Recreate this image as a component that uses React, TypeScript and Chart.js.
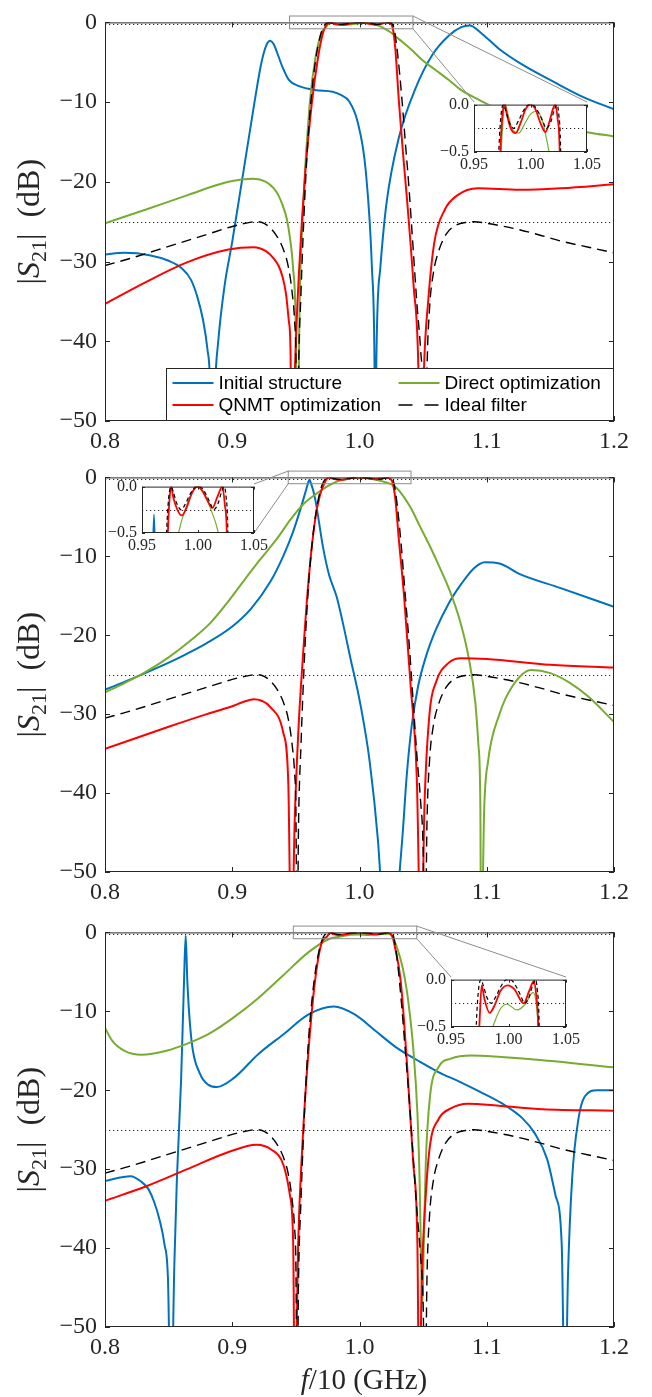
import React, { useEffect, useRef } from "react";
import { Chart, registerables } from "chart.js";

Chart.register(...registerables);

type Pt = [number, number];

// ---------------- axis ticks / labels ----------------
const xTickValues = [0.8, 0.9, 1.0, 1.1, 1.2];
const yTickValues = [-50, -40, -30, -20, -10, 0];
const insetXTickValues = [0.95, 1.0, 1.05];
const insetYTickValues = [-0.5, 0];
const mainRefLevels = [-25, -0.25];
const insetRefLevels = [-0.25];
const seriesNames = ["Initial structure", "Direct optimization", "QNMT optimization", "Ideal filter"];

// ---------------- data: [f/10 GHz, |S21| dB] ----------------
const idealFilter: Pt[] = [
  [0.8, -30.5], [0.82, -29.6], [0.85, -28.1], [0.88, -26.6], [0.9, -25.6], [0.915, -25.05], [0.92, -25.0],
  [0.925, -25.2], [0.93, -25.8], [0.935, -26.8], [0.94, -28.4], [0.944, -30.6], [0.947, -33.8], [0.949, -37.5],
  [0.95, -42], [0.951, -62], [0.952, -45], [0.954, -34], [0.957, -22], [0.96, -13.5], [0.963, -8], [0.966, -4.2],
  [0.969, -1.8], [0.971, -0.8], [0.9725, -0.35], [0.974, -0.1], [0.976, 0], [0.978, -0.06], [0.981, -0.18],
  [0.985, -0.25], [0.989, -0.18], [0.993, -0.08], [0.997, -0.01], [1.0, 0], [1.003, -0.01], [1.007, -0.08],
  [1.011, -0.18], [1.014, -0.25], [1.018, -0.18], [1.021, -0.06], [1.0235, 0], [1.025, -0.1], [1.0265, -0.4],
  [1.028, -1.5], [1.03, -4], [1.033, -9], [1.036, -15], [1.039, -21], [1.042, -28], [1.045, -35], [1.048, -41],
  [1.05, -47], [1.0515, -62], [1.053, -44], [1.055, -36], [1.058, -31.5], [1.062, -28.8], [1.068, -26.6],
  [1.075, -25.5], [1.085, -25.05], [1.09, -25.0], [1.1, -25.2], [1.12, -25.8], [1.14, -26.6], [1.16, -27.5],
  [1.18, -28.2], [1.2, -28.9],
];

// Panel 1
const initial1: Pt[] = [
  [0.8, -29.1], [0.815, -28.9], [0.835, -29.2], [0.85, -29.9], [0.86, -30.8], [0.8676, -32.3], [0.8725, -34.4],
  [0.877, -37.3], [0.8805, -41], [0.8825, -45], [0.8845, -62], [0.8865, -46], [0.889, -40], [0.894, -33],
  [0.9, -27.5], [0.906, -21.5], [0.912, -15.5], [0.918, -9.5], [0.923, -5], [0.927, -2.8], [0.9297, -2.3],
  [0.9325, -2.7], [0.9355, -3.9], [0.9395, -5.6], [0.9445, -7.2], [0.9526, -8.0], [0.9657, -8.5], [0.9788, -8.7],
  [0.9853, -9.1], [0.9918, -9.9], [0.9984, -12.4], [1.0049, -18.6], [1.0098, -30.9], [1.0118, -43], [1.0125, -62],
  [1.0132, -43], [1.0163, -30.9], [1.0212, -22.7], [1.031, -14.4], [1.0441, -8.25], [1.0572, -4.1],
  [1.0703, -1.65], [1.08, -0.6], [1.0866, -0.4], [1.0964, -1.45], [1.1095, -3.3], [1.129, -5.4], [1.152, -7.4],
  [1.175, -9.3], [1.2, -10.9],
];
const direct1: Pt[] = [
  [0.8, -25.2], [0.8317, -23.5], [0.8644, -21.7], [0.897, -20.0], [0.9167, -19.6], [0.9265, -20.0], [0.9325, -20.8],
  [0.9363, -21.7], [0.9395, -22.9], [0.9428, -24.6], [0.9455, -27.2], [0.9477, -30.6], [0.95, -39.2], [0.9513, -62],
  [0.9526, -39], [0.9559, -22.7], [0.9608, -10.3], [0.9657, -4.1], [0.9706, -1.2], [0.974, -0.5], [0.976, -0.1],
  [0.9777, 0], [0.98, -0.1], [0.984, -0.26], [0.9898, -0.3], [0.995, -0.2], [1.0, -0.1], [1.0052, -0.07],
  [1.01, -0.15], [1.014, -0.35], [1.0164, -0.5], [1.02, -0.8], [1.025, -1.3], [1.031, -2.1], [1.04, -3.3],
  [1.05, -4.8], [1.06, -6.0], [1.07, -7.2], [1.08, -8.5], [1.095, -9.8], [1.11, -11.0], [1.126, -11.8],
  [1.142, -12.6], [1.16, -13.2], [1.18, -13.8], [1.2, -14.3],
];
const qnmt1: Pt[] = [
  [0.8, -35.3], [0.8317, -32.6], [0.8644, -30.1], [0.897, -28.5], [0.9167, -28.2], [0.9265, -28.7], [0.9325, -29.6],
  [0.9363, -30.5], [0.9395, -31.9], [0.9422, -34.0], [0.9445, -37.5], [0.9458, -41.3], [0.9467, -62], [0.9493, -43.3],
  [0.9526, -30.9], [0.9575, -18.6], [0.9624, -10.3], [0.9673, -4.5], [0.971, -1.5], [0.9733, -0.5], [0.9752, -0.1],
  [0.9771, 0], [0.979, -0.1], [0.9825, -0.25], [0.9869, -0.3], [0.991, -0.2], [0.996, -0.04], [1.0, 0],
  [1.004, -0.04], [1.009, -0.2], [1.0131, -0.29], [1.017, -0.17], [1.02, -0.04], [1.022, 0], [1.024, -0.15],
  [1.0258, -0.5], [1.028, -3], [1.031, -10], [1.0345, -17], [1.0376, -22.7], [1.0425, -33], [1.0462, -43],
  [1.048, -62], [1.0507, -43.3], [1.0539, -35.1], [1.0588, -27.6], [1.067, -23.5], [1.0768, -21.7], [1.093, -20.8],
  [1.1258, -21.0], [1.1585, -20.8], [1.2, -20.3],
];

// Panel 2
const initial2: Pt[] = [
  [0.8, -26.9], [0.82, -25.6], [0.84, -24.2], [0.86, -22.7], [0.88, -21.0], [0.9, -18.9], [0.915, -16.6],
  [0.93, -13.2], [0.94, -10.0], [0.948, -6.8], [0.954, -3.8], [0.958, -1.6], [0.9598, -0.6], [0.9607, -0.3],
  [0.9616, -0.6], [0.965, -2.6], [0.9714, -8.9], [0.976, -12.3], [0.982, -15.1], [0.987, -18.5], [0.993, -23],
  [1.0004, -28.5], [1.008, -36], [1.0145, -46], [1.017, -52], [1.024, -65], [1.0305, -52], [1.034, -45],
  [1.037, -38], [1.041, -31.5], [1.046, -26.5], [1.052, -22.8], [1.06, -19.3], [1.07, -16], [1.08, -13.5],
  [1.09, -11.5], [1.0986, -10.75], [1.11, -10.9], [1.126, -12.25], [1.1576, -14], [1.2, -16.4],
];
const direct2: Pt[] = [
  [0.8, -27.25], [0.815, -26.1], [0.831, -24.75], [0.85, -22.8], [0.867, -20.7], [0.8825, -18.5], [0.896, -15.9],
  [0.9086, -13.2], [0.922, -10.4], [0.935, -7.8], [0.946, -5.3], [0.9558, -3.4], [0.965, -2.2],
  [0.975, -1.1], [0.9826, -0.5], [0.99, -0.2], [0.995, -0.06], [1.0, 0], [1.005, -0.06], [1.01, -0.2],
  [1.0182, -0.5], [1.029, -1.3], [1.0397, -3.7], [1.0475, -6.2], [1.055, -8.6], [1.063, -11.4], [1.071, -14.4],
  [1.079, -18.2], [1.086, -23], [1.091, -28.5], [1.0935, -34], [1.095, -42], [1.0955, -62], [1.098, -42],
  [1.101, -36], [1.11, -30], [1.12, -26.5], [1.135, -24.4], [1.15, -24.8], [1.165, -26], [1.18, -27.8], [1.2, -31],
];
const qnmt2: Pt[] = [
  [0.8, -34.4], [0.85, -31.6], [0.88, -30.0], [0.9, -29.0], [0.908, -28.5], [0.917, -28.1], [0.923, -28.3],
  [0.93, -29.1], [0.94, -32.3], [0.944, -38.5],
  [0.9465, -62], [0.949, -44], [0.952, -32], [0.955, -24], [0.96, -13], [0.965, -5.5], [0.969, -2.2],
  [0.9731, -0.5], [0.9745, -0.15], [0.9761, 0], [0.978, -0.12], [0.9856, -0.31], [0.99, -0.22], [0.995, -0.06],
  [0.9996, 0], [1.004, -0.05], [1.008, -0.14], [1.0129, -0.23], [1.017, -0.12], [1.0218, 0], [1.024, -0.2],
  [1.0257, -0.5], [1.028, -2.5], [1.031, -8], [1.035, -15], [1.04, -26], [1.045, -38], [1.0485, -62],
  [1.051, -42], [1.055, -30], [1.06, -26], [1.07, -23.5], [1.08, -22.9], [1.1, -23], [1.15, -23.75], [1.2, -24.1],
];

// Panel 3
const initial3: Pt[] = [
  [0.8, -31.5], [0.82, -30.9], [0.8286, -31.6], [0.834, -32.5], [0.8385, -34.1], [0.843, -36.5], [0.8467, -39.5],
  [0.8495, -44], [0.8518, -62], [0.8545, -42], [0.8565, -31.2], [0.8598, -18.7], [0.8621, -6.2], [0.8634, -0.4],
  [0.8647, -6.2], [0.868, -13.7], [0.8746, -17.9], [0.8812, -19.3], [0.8877, -19.6], [0.9009, -18.5],
  [0.9206, -15.4], [0.9403, -12.9], [0.96, -10.4], [0.9798, -9.4], [0.9962, -10.4], [1.0127, -12.5],
  [1.0291, -14.6], [1.0455, -16.2], [1.062, -17.7], [1.0784, -18.9], [1.0948, -20.2], [1.1113, -21.6],
  [1.1277, -23.5], [1.1375, -25.4], [1.1474, -28.7], [1.154, -33.3], [1.1589, -39.5], [1.1615, -62],
  [1.1638, -43.7], [1.1671, -31.2], [1.172, -23.7], [1.177, -20.8], [1.1869, -20.0], [1.2, -20.0],
];
const direct3: Pt[] = [
  [0.8, -12.1], [0.8056, -13.7], [0.8154, -15.0], [0.8286, -15.5], [0.8483, -15.0], [0.8647, -14.1],
  [0.8812, -12.9], [0.9009, -10.8], [0.9206, -8.3], [0.9403, -5.4], [0.96, -2.5], [0.9765, -0.8], [0.9862, -0.5],
  [0.9929, -0.31], [0.9987, -0.26], [1.0074, -0.32], [1.0146, -0.26], [1.0213, -0.135], [1.0242, -0.26],
  [1.0257, -0.5], [1.03, -2.2], [1.034, -4.5], [1.0373, -7.5], [1.04, -11], [1.0422, -14.6], [1.0455, -22.9],
  [1.0472, -31.2], [1.0485, -42], [1.0495, -47], [1.0505, -39.5], [1.0521, -29.1], [1.0554, -20.8], [1.062, -17.1],
  [1.0718, -16.0], [1.0883, -15.6], [1.1113, -15.8], [1.1441, -16.2], [1.2, -17.1],
];
const qnmt3: Pt[] = [
  [0.8, -34.0], [0.8319, -32.2], [0.8647, -30.0], [0.8976, -27.8], [0.919, -26.9], [0.9305, -27.5], [0.9403, -29.5],
  [0.9453, -33.3], [0.9479, -39.5], [0.9492, -62], [0.9518, -39.5], [0.9551, -27], [0.9601, -14.6], [0.965, -6.2],
  [0.9699, -1.5], [0.9746, -0.5], [0.9767, -0.06], [0.979, -0.2], [0.9836, -0.35], [0.988, -0.27], [0.993, -0.12],
  [0.9993, -0.06], [1.005, -0.1], [1.0132, -0.25], [1.018, -0.12], [1.0219, -0.02], [1.024, -0.15], [1.0259, -0.5],
  [1.0274, -1.5], [1.0324, -6.2], [1.0373, -16.6], [1.0422, -29.1], [1.0455, -39.5], [1.047, -62], [1.0488, -45],
  [1.0521, -33.3], [1.0554, -27], [1.062, -23.7], [1.0718, -22.3], [1.085, -21.7], [1.1113, -22.0], [1.1441, -22.4],
  [1.2, -22.6],
];

// ---------------- styles & layout ----------------
const SERIF = '"Liberation Serif", "Times New Roman", serif';
const SANS = '"Liberation Sans", Arial, sans-serif';
const AX = "#262626";
Chart.defaults.font.family = SERIF;

const STYLE = [
  { color: "#0072BD", width: 2, insetWidth: 1.5, dash: [] as number[], insetDash: [] as number[], order: 3 },
  { color: "#77AC30", width: 2, insetWidth: 1.2, dash: [] as number[], insetDash: [] as number[], order: 2 },
  { color: "#FF0000", width: 2, insetWidth: 1.8, dash: [] as number[], insetDash: [] as number[], order: 1 },
  { color: "#000000", width: 1.4, insetWidth: 1.2, dash: [10, 6], insetDash: [4, 3], order: 0 },
];

type Panel = {
  top: number; height: number; plotTop: number; plotBottom: number;
  series: Pt[][];
  box: { x0: number; x1: number; y0: number; y1: number };
  inset: { l: number; t: number; r: number; b: number };
  link: "right" | "left";
  legend: boolean; xTitle: boolean;
};

const PANELS: Panel[] = [
  { top: 0, height: 455, plotTop: 17, plotBottom: 421, series: [initial1, direct1, qnmt1, idealFilter],
    box: { x0: 0.945, x1: 1.042, y0: 0.8, y1: -0.8 }, inset: { l: 474, t: 102, r: 587, b: 152 },
    link: "right", legend: true, xTitle: false },
  { top: 455, height: 455, plotTop: 17, plotBottom: 417, series: [initial2, direct2, qnmt2, idealFilter],
    box: { x0: 0.944, x1: 1.0405, y0: 0.8, y1: -0.8 }, inset: { l: 142, t: 484, r: 254, b: 533 },
    link: "left", legend: false, xTitle: false },
  { top: 910, height: 487, plotTop: 17, plotBottom: 417, series: [initial3, direct3, qnmt3, idealFilter],
    box: { x0: 0.948, x1: 1.045, y0: 0.8, y1: -0.8 }, inset: { l: 451, t: 977, r: 566, b: 1027 },
    link: "right", legend: false, xTitle: true },
];

const PLOT_LEFT = 105;
const PLOT_RIGHT = 614;
const INSET_PAD = { left: 46, top: 12, right: 24, bottom: 30 };

const minus = (s: string) => s.replace("-", "\u2212");

function drawParts(ctx: CanvasRenderingContext2D, parts: { t: string; font: string; dy?: number }[], x: number, y: number, angle: number) {
  ctx.save();
  ctx.translate(x, y);
  ctx.rotate(angle);
  let total = 0;
  for (const p of parts) { ctx.font = p.font; total += ctx.measureText(p.t).width; }
  let cx = -total / 2;
  ctx.textAlign = "left";
  ctx.textBaseline = "alphabetic";
  ctx.fillStyle = AX;
  for (const p of parts) {
    ctx.font = p.font;
    ctx.fillText(p.t, cx, p.dy || 0);
    cx += ctx.measureText(p.t).width;
  }
  ctx.restore();
}

function drawFrame(ctx: CanvasRenderingContext2D, chart: any, xt: number[], yt: number[], len: number) {
  const a = chart.chartArea;
  const { x, y } = chart.scales;
  ctx.save();
  ctx.setLineDash([]);
  ctx.strokeStyle = AX;
  ctx.lineWidth = 1;
  ctx.strokeRect(a.left + 0.5, a.top + 0.5, a.right - a.left - 1, a.bottom - a.top - 1);
  ctx.beginPath();
  for (const v of xt) {
    const px = Math.round(x.getPixelForValue(v)) + 0.5;
    ctx.moveTo(px, a.bottom); ctx.lineTo(px, a.bottom - len);
    ctx.moveTo(px, a.top); ctx.lineTo(px, a.top + len);
  }
  for (const v of yt) {
    const py = Math.round(y.getPixelForValue(v)) + 0.5;
    ctx.moveTo(a.left, py); ctx.lineTo(a.left + len, py);
    ctx.moveTo(a.right, py); ctx.lineTo(a.right - len, py);
  }
  ctx.stroke();
  ctx.restore();
}

function drawRefLines(ctx: CanvasRenderingContext2D, chart: any, levels: number[]) {
  const a = chart.chartArea;
  const y = chart.scales.y;
  ctx.save();
  ctx.strokeStyle = "#222";
  ctx.lineWidth = 1;
  ctx.setLineDash([1.2, 2.8]);
  for (const lv of levels) {
    const py = Math.round(y.getPixelForValue(lv)) + 0.5;
    ctx.beginPath(); ctx.moveTo(a.left, py); ctx.lineTo(a.right, py); ctx.stroke();
  }
  ctx.restore();
}

function makeDatasets(series: Pt[][], inset: boolean) {
  return series.map((s, i) => ({
    label: seriesNames[i],
    data: s.map(([fx, db]) => ({ x: fx, y: db })),
    borderColor: STYLE[i].color,
    backgroundColor: STYLE[i].color,
    borderWidth: inset ? STYLE[i].insetWidth : STYLE[i].width,
    borderDash: inset ? STYLE[i].insetDash : STYLE[i].dash,
    pointRadius: 0,
    pointHoverRadius: 0,
    fill: false,
    cubicInterpolationMode: "monotone" as const,
    order: STYLE[i].order,
  }));
}

function buildMain(p: Panel): any {
  const decor = {
    id: "decor",
    beforeDatasetsDraw(chart: any) {
      drawRefLines(chart.ctx, chart, mainRefLevels);
    },
    afterDatasetsDraw(chart: any) {
      const ctx: CanvasRenderingContext2D = chart.ctx;
      const a = chart.chartArea;
      const { x, y } = chart.scales;
      drawFrame(ctx, chart, xTickValues, yTickValues, 5);

      // zoom box + connectors
      const bx0 = x.getPixelForValue(p.box.x0), bx1 = x.getPixelForValue(p.box.x1);
      const by0 = y.getPixelForValue(p.box.y0), by1 = y.getPixelForValue(p.box.y1);
      const il = p.inset.l, ir = p.inset.r, it = p.inset.t - p.top, ib = p.inset.b - p.top;
      ctx.save();
      ctx.setLineDash([]);
      ctx.strokeStyle = "#8c8c8c";
      ctx.lineWidth = 1;
      ctx.strokeRect(bx0, by0, bx1 - bx0, by1 - by0);
      ctx.beginPath();
      if (p.link === "right") {
        ctx.moveTo(bx1, by0); ctx.lineTo(ir, it);
        ctx.moveTo(bx1, by1); ctx.lineTo(il, it);
      } else {
        ctx.moveTo(bx0, by0); ctx.lineTo(ir, it);
        ctx.moveTo(bx0, by1); ctx.lineTo(ir, ib);
      }
      ctx.stroke();
      ctx.restore();

      if (p.legend) {
        const w = 448, h = 53;
        const L = a.right - w, T = a.bottom - h;
        ctx.save();
        ctx.fillStyle = "#fff";
        ctx.fillRect(L, T, w, h);
        ctx.strokeStyle = AX;
        ctx.lineWidth = 1;
        ctx.setLineDash([]);
        ctx.strokeRect(L + 0.5, T + 0.5, w - 1, h - 1);
        const cols = [6.5, 232.5];
        const rows = [15, 37];
        const slots = [[0, 0], [1, 0], [0, 1], [1, 1]];
        slots.forEach(([c, r], i) => {
          const lx = L + cols[c];
          const ly = T + rows[r];
          ctx.strokeStyle = STYLE[i].color;
          ctx.lineWidth = i === 3 ? 1.6 : 2.2;
          ctx.setLineDash(i === 3 ? [14, 12] : []);
          ctx.beginPath(); ctx.moveTo(lx, ly); ctx.lineTo(lx + 41, ly); ctx.stroke();
          ctx.setLineDash([]);
          ctx.fillStyle = "#000";
          ctx.font = `19px ${SANS}`;
          ctx.textAlign = "left";
          ctx.textBaseline = "middle";
          ctx.fillText(seriesNames[i], lx + 46, ly + 1);
        });
        ctx.restore();
      }
    },
    afterDraw(chart: any) {
      const ctx: CanvasRenderingContext2D = chart.ctx;
      const a = chart.chartArea;
      drawParts(ctx, [
        { t: "|", font: `32px ${SERIF}` },
        { t: "S", font: `italic 32px ${SERIF}` },
        { t: "21", font: `22px ${SERIF}`, dy: 7 },
        { t: "|\u2002(dB)", font: `32px ${SERIF}` },
      ], 39, (a.top + a.bottom) / 2, -Math.PI / 2);
      if (p.xTitle) {
        drawParts(ctx, [
          { t: "f", font: `italic 29px ${SERIF}` },
          { t: "/10 (GHz)", font: `29px ${SERIF}` },
        ], 364, a.bottom + 62, 0);
      }
    },
  };

  return {
    type: "line",
    data: { datasets: makeDatasets(p.series, false) },
    options: {
      animation: false,
      responsive: false,
      maintainAspectRatio: false,
      events: [],
      layout: { padding: { top: p.plotTop, right: 652 - PLOT_RIGHT, left: 0, bottom: 0 } },
      plugins: { legend: { display: false }, tooltip: { enabled: false } },
      scales: {
        x: {
          type: "linear", min: 0.8, max: 1.2,
          grid: { display: false, drawTicks: false }, border: { display: false },
          afterBuildTicks: (s: any) => { s.ticks = xTickValues.map((v) => ({ value: v })); },
          afterFit: (s: any) => { s.height = p.height - p.plotBottom; },
          ticks: {
            autoSkip: false, maxRotation: 0, padding: 6, color: AX,
            font: { family: SERIF, size: 24 },
            callback: (v: any) => Number(v).toFixed(1),
          },
        },
        y: {
          type: "linear", min: -50, max: 0,
          grid: { display: false, drawTicks: false }, border: { display: false },
          afterBuildTicks: (s: any) => { s.ticks = yTickValues.map((v) => ({ value: v })); },
          afterFit: (s: any) => { s.width = PLOT_LEFT; },
          ticks: {
            autoSkip: false, padding: 8, color: AX,
            font: { family: SERIF, size: 24 },
            callback: (v: any) => minus(String(Number(v))),
          },
        },
      },
    },
    plugins: [decor],
  };
}

function buildInset(p: Panel): any {
  const decor = {
    id: "insetDecor",
    beforeDatasetsDraw(chart: any) {
      const a = chart.chartArea;
      const ctx: CanvasRenderingContext2D = chart.ctx;
      ctx.save();
      ctx.fillStyle = "#fff";
      ctx.fillRect(a.left, a.top, a.right - a.left, a.bottom - a.top);
      ctx.restore();
      drawRefLines(ctx, chart, insetRefLevels);
    },
    afterDatasetsDraw(chart: any) {
      drawFrame(chart.ctx, chart, insetXTickValues, insetYTickValues, 3);
    },
  };
  return {
    type: "line",
    data: { datasets: makeDatasets(p.series, true) },
    options: {
      animation: false,
      responsive: false,
      maintainAspectRatio: false,
      events: [],
      layout: { padding: { top: INSET_PAD.top, right: INSET_PAD.right, left: 0, bottom: 0 } },
      plugins: { legend: { display: false }, tooltip: { enabled: false } },
      scales: {
        x: {
          type: "linear", min: 0.95, max: 1.05,
          grid: { display: false, drawTicks: false }, border: { display: false },
          afterBuildTicks: (s: any) => { s.ticks = insetXTickValues.map((v) => ({ value: v })); },
          afterFit: (s: any) => { s.height = INSET_PAD.bottom; },
          ticks: {
            autoSkip: false, maxRotation: 0, padding: 3, color: AX,
            font: { family: SERIF, size: 16 },
            callback: (v: any) => Number(v).toFixed(2),
          },
        },
        y: {
          type: "linear", min: -0.5, max: 0,
          grid: { display: false, drawTicks: false }, border: { display: false },
          afterBuildTicks: (s: any) => { s.ticks = insetYTickValues.map((v) => ({ value: v })); },
          afterFit: (s: any) => { s.width = INSET_PAD.left; },
          ticks: {
            autoSkip: false, padding: 5, color: AX,
            font: { family: SERIF, size: 16 },
            callback: (v: any) => minus(Number(v).toFixed(1)),
          },
        },
      },
    },
    plugins: [decor],
  };
}

function ChartBox({ left, top, width, height, make }: { left: number; top: number; width: number; height: number; make: () => any }) {
  const ref = useRef<HTMLCanvasElement | null>(null);
  useEffect(() => {
    if (!ref.current) return;
    const chart = new Chart(ref.current, make());
    return () => chart.destroy();
  }, []);
  return (
    <canvas
      ref={ref}
      width={width}
      height={height}
      style={{ position: "absolute", left, top, width, height, display: "block" }}
    />
  );
}

export default function App() {
  return (
    <div style={{ position: "absolute", left: 0, top: 0, width: 652, height: 1397, background: "#fff", overflow: "hidden" }}>
      {PANELS.map((p, k) => (
        <React.Fragment key={k}>
          <ChartBox left={0} top={p.top} width={652} height={p.height} make={() => buildMain(p)} />
          <ChartBox
            left={p.inset.l - INSET_PAD.left}
            top={p.inset.t - INSET_PAD.top}
            width={p.inset.r - p.inset.l + INSET_PAD.left + INSET_PAD.right}
            height={p.inset.b - p.inset.t + INSET_PAD.top + INSET_PAD.bottom}
            make={() => buildInset(p)}
          />
        </React.Fragment>
      ))}
    </div>
  );
}
